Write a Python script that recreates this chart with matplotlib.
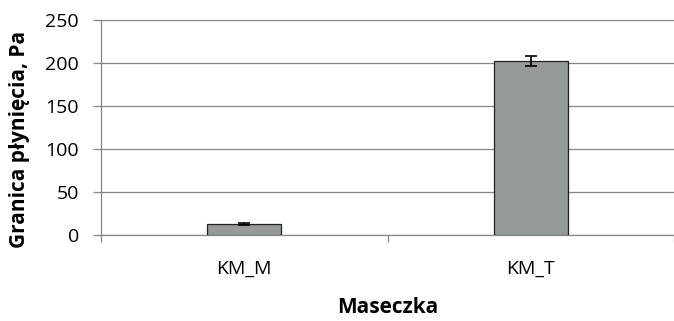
import matplotlib.pyplot as plt
import numpy as np

categories = ["KM_M", "KM_T"]
values = [13, 202]
errors = [1, 6]

plt.rcParams['font.family'] = ['Open Sans', 'DejaVu Sans']

fig = plt.figure(figsize=(6.74, 3.21), dpi=100)
ax = fig.add_axes([101 / 674, 1 - 235 / 321, 573 / 674, 215 / 321])

x = np.arange(len(categories))
ax.bar(x, values, width=0.26, color="#969a9a", edgecolor="#202020", linewidth=0.9,
       yerr=errors, error_kw=dict(ecolor="black", elinewidth=1.2, capsize=4, capthick=1.2),
       zorder=3)

ax.set_xlim(-0.5, 1.5)
ax.set_ylim(0, 250)
ax.set_yticks(np.arange(0, 251, 50))
ax.yaxis.grid(True, color="#868686", linewidth=0.9, zorder=0)

ax.set_xticks(x)
ax.set_xticklabels(categories, fontsize=14)
ax.set_xticks([-0.5, 0.5, 1.5], minor=True)
ax.tick_params(axis="x", which="major", length=0, pad=18)
ax.tick_params(axis="x", which="minor", length=5, color="#868686", width=0.9)
ax.tick_params(axis="y", length=6, color="#868686", width=0.9, labelsize=14, pad=10)

for s in ["top", "right"]:
    ax.spines[s].set_visible(False)
ax.spines["left"].set_color("#868686")
ax.spines["bottom"].set_color("#868686")
ax.spines["left"].set_linewidth(0.9)
ax.spines["bottom"].set_linewidth(0.9)

ax.set_xlabel("Maseczka", fontsize=15, fontweight="bold", labelpad=14)
ax.set_ylabel("Granica płynięcia, Pa", fontsize=15, fontweight="bold", va="center")
ax.yaxis.set_label_coords(-0.142, 0.445)

fig.savefig("out.png", dpi=100)
